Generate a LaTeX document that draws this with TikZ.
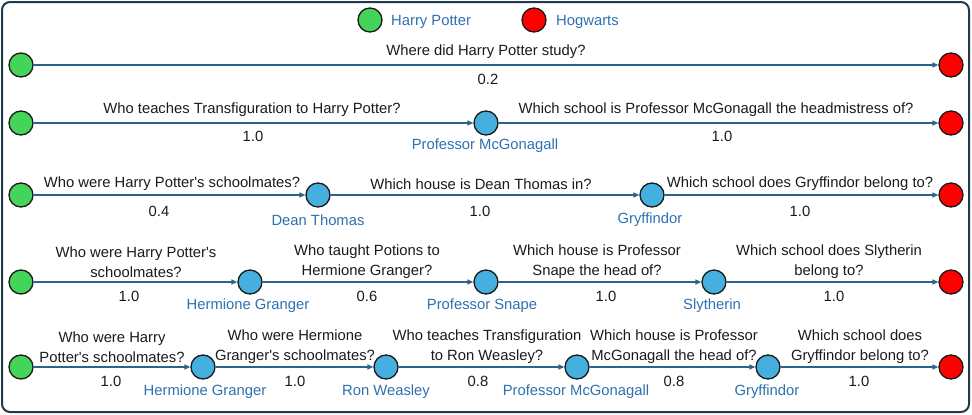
\documentclass[tikz,border=0pt]{standalone}
\usepackage{fontspec}
\setmainfont{Liberation Sans}[Ligatures=TeXOff]
\usetikzlibrary{arrows.meta}
\definecolor{gfill}{HTML}{45D45A}
\definecolor{rfill}{HTML}{FF0000}
\definecolor{bfill}{HTML}{45B0E0}
\definecolor{edgec}{HTML}{2C6388}
\definecolor{lblue}{HTML}{2E70B0}
\definecolor{framec}{HTML}{1E3A4C}
\definecolor{txt}{HTML}{1A1A1A}
\tikzset{
  ent/.style={circle, minimum size=24pt, inner sep=0pt, draw=txt, line width=1.3pt},
  gnode/.style={ent, fill=gfill},
  rnode/.style={ent, fill=rfill},
  bnode/.style={ent, fill=bfill},
  arr/.style={draw=edgec, line width=1.4pt, -{Triangle[length=6pt,width=5pt]}},
  q/.style={font=\fontsize{14.8}{20}\selectfont, text=txt, align=center, inner sep=0pt, yshift=-2pt},
  w/.style={font=\fontsize{14.8}{17}\selectfont, text=txt, inner sep=0pt},
  lab/.style={font=\fontsize{14.8}{17}\selectfont, text=lblue, inner sep=0pt, yshift=-2pt},
}
\begin{document}
\begin{tikzpicture}[x=1pt,y=-1pt]
\useasboundingbox (0,0) rectangle (972,415);
\draw[framec, line width=2pt, rounded corners=8pt] (2,2) rectangle (969,412);
% legend
\node[gnode] (lg) at (370,20) {};
\node[lab, anchor=west] (lgt) at (391,20) {Harry Potter};
\node[rnode] (lr) at (534,20) {};
\node[lab, anchor=west] (lrt) at (556,20) {Hogwarts};
% row 1
\node[gnode] (a0) at (21,65) {};
\node[rnode] (a1) at (951,65) {};
\draw[arr] (a0) -- (a1);
\node[q] (aq1) at (486,50) {Where did Harry Potter study?};
\node[w] (aw1) at (488,79) {0.2};
% row 2
\node[gnode] (b0) at (21,123) {};
\node[bnode] (b1) at (486,123) {};
\node[rnode] (b2) at (951,123) {};
\draw[arr] (b0) -- (b1);
\draw[arr] (b1) -- (b2);
\node[lab] (bl1) at (485,144) {Professor McGonagall};
\node[q] (bq1) at (252,108) {Who teaches Transfiguration to Harry Potter?};
\node[w] (bw1) at (253,136) {1.0};
\node[q] (bq2) at (716,108) {Which school is Professor McGonagall the headmistress of?};
\node[w] (bw2) at (722,136) {1.0};
% row 3
\node[gnode] (c0) at (21,195) {};
\node[bnode] (c1) at (318,195) {};
\node[bnode] (c2) at (652,195) {};
\node[rnode] (c3) at (951,195) {};
\draw[arr] (c0) -- (c1);
\draw[arr] (c1) -- (c2);
\draw[arr] (c2) -- (c3);
\node[lab] (cl1) at (318,218) {Dean Thomas};
\node[lab] (cl2) at (650,218) {Gryffindor};
\node[q] (cq1) at (172,182) {Who were Harry Potter's schoolmates?};
\node[w] (cw1) at (159,211) {0.4};
\node[q] (cq2) at (481,182) {Which house is Dean Thomas in?};
\node[w] (cw2) at (480,211) {1.0};
\node[q] (cq3) at (800,182) {Which school does Gryffindor belong to?};
\node[w] (cw3) at (800,211) {1.0};
% row 4
\node[gnode] (d0) at (21,282) {};
\node[bnode] (d1) at (250,282) {};
\node[bnode] (d2) at (486,282) {};
\node[bnode] (d3) at (714,282) {};
\node[rnode] (d4) at (951,282) {};
\draw[arr] (d0) -- (d1);
\draw[arr] (d1) -- (d2);
\draw[arr] (d2) -- (d3);
\draw[arr] (d3) -- (d4);
\node[lab] (dl1) at (248,304) {Hermione Granger};
\node[lab] (dl2) at (482,304) {Professor Snape};
\node[lab] (dl3) at (712,304) {Slytherin};
\node[q] (dq1) at (136,260) {Who were Harry Potter's\\schoolmates?};
\node[w] (dw1) at (129,296) {1.0};
\node[q] (dq2) at (367,260) {Who taught Potions to\\Hermione Granger?};
\node[w] (dw2) at (367,296) {0.6};
\node[q] (dq3) at (597,260) {Which house is Professor\\Snape the head of?};
\node[w] (dw3) at (606,296) {1.0};
\node[q] (dq4) at (829,260) {Which school does Slytherin\\belong to?};
\node[w] (dw4) at (834,296) {1.0};
% row 5
\node[gnode] (e0) at (21,367) {};
\node[bnode] (e1) at (203,367) {};
\node[bnode] (e2) at (386,367) {};
\node[bnode] (e3) at (577,367) {};
\node[bnode] (e4) at (768,367) {};
\node[rnode] (e5) at (951,367) {};
\draw[arr] (e0) -- (e1);
\draw[arr] (e1) -- (e2);
\draw[arr] (e2) -- (e3);
\draw[arr] (e3) -- (e4);
\draw[arr] (e4) -- (e5);
\node[lab] (el1) at (205,390) {Hermione Granger};
\node[lab] (el2) at (386,390) {Ron Weasley};
\node[lab] (el3) at (576,390) {Professor McGonagall};
\node[lab] (el4) at (767,390) {Gryffindor};
\node[q] (eq1) at (112,345) {Who were Harry\\Potter's schoolmates?};
\node[w] (ew1) at (111,381) {1.0};
\node[q] (eq2) at (295,345) {Who were Hermione\\Granger's schoolmates?};
\node[w] (ew2) at (295,381) {1.0};
\node[q] (eq3) at (487,345) {Who teaches Transfiguration\\to Ron Weasley?};
\node[w] (ew3) at (478,381) {0.8};
\node[q] (eq4) at (674,345) {Which house is Professor\\McGonagall the head of?};
\node[w] (ew4) at (674,381) {0.8};
\node[q] (eq5) at (860,345) {Which school does\\Gryffindor belong to?};
\node[w] (ew5) at (859,381) {1.0};
\end{tikzpicture}
\end{document}
